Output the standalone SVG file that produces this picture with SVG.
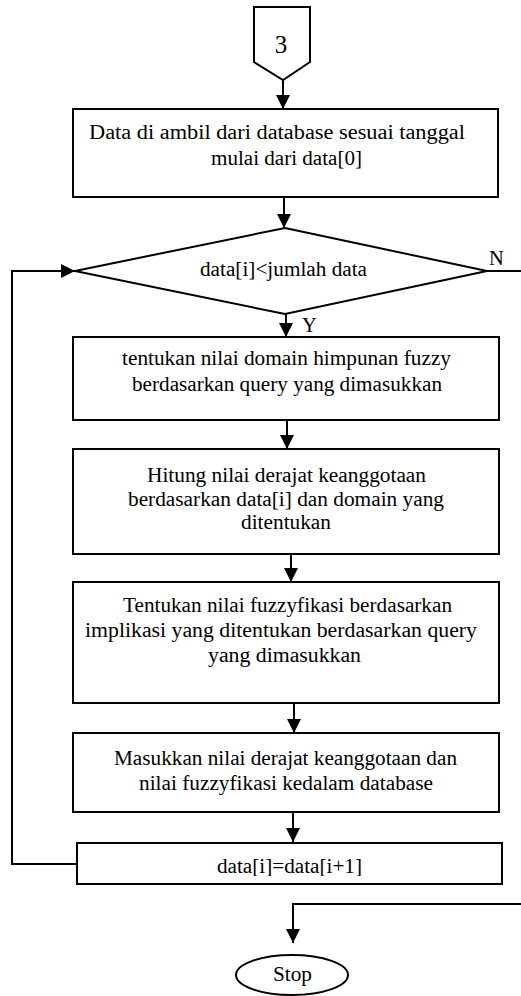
<svg xmlns="http://www.w3.org/2000/svg" width="521" height="996" viewBox="0 0 521 996">
  <style>
    .shape { fill: #ffffff; stroke: #000000; stroke-width: 2; }
    .wire { fill: none; stroke: #000000; stroke-width: 2; }
    .lbl { font-family: "Liberation Serif", "Times New Roman", serif; font-size: 20.5px; fill: #000000; text-anchor: middle; }
    .side { font-family: "Liberation Serif", "Times New Roman", serif; font-size: 20.5px; fill: #000000; }
  </style>
  <defs>
    <marker id="arrow" viewBox="0 0 14 14" refX="14" refY="7" markerWidth="14" markerHeight="14" markerUnits="userSpaceOnUse" orient="auto">
      <path d="M0,0 L14,7 L0,14 z" fill="#000000"/>
    </marker>
    <clipPath id="clip-step">
      <rect x="77" y="843" width="425" height="33"/>
    </clipPath>
  </defs>

  <rect width="521" height="996" fill="#ffffff"/>

  <!-- connectors -->
  <g id="connectors">
    <line class="wire" x1="283" y1="80" x2="283" y2="109" marker-end="url(#arrow)"/>
    <line class="wire" x1="284" y1="197" x2="284" y2="228" marker-end="url(#arrow)"/>
    <line class="wire" x1="286" y1="314" x2="286" y2="337" marker-end="url(#arrow)"/>
    <line class="wire" x1="287" y1="420" x2="287" y2="449" marker-end="url(#arrow)"/>
    <line class="wire" x1="291" y1="554" x2="291" y2="582" marker-end="url(#arrow)"/>
    <line class="wire" x1="294" y1="703" x2="294" y2="733" marker-end="url(#arrow)"/>
    <line class="wire" x1="293" y1="812" x2="293" y2="842" marker-end="url(#arrow)"/>
    <!-- loop back to the condition -->
    <polyline class="wire" points="77,864 12,864 12,271 75,271" marker-end="url(#arrow)"/>
    <!-- exit branch (N) -->
    <line class="wire" x1="487" y1="271" x2="521" y2="271"/>
    <polyline class="wire" points="521,904 293,904 293,943" marker-end="url(#arrow)"/>
    <text class="side" x="489" y="265">N</text>
    <text class="side" x="302" y="332">Y</text>
  </g>

  <!-- off-page connector -->
  <g id="node-connector-3">
    <polygon class="shape" points="254,7 310,7 310,62 283,80 254,62"/>
    <text class="lbl" x="281" y="53" style="font-size:25px">3</text>
  </g>

  <g id="node-load-data">
    <rect class="shape" x="73" y="109" width="425" height="88"/>
    <text class="lbl" x="277" y="139" textLength="376" lengthAdjust="spacingAndGlyphs">Data di ambil dari database sesuai tanggal</text>
    <text class="lbl" x="286.5" y="165" textLength="151" lengthAdjust="spacingAndGlyphs">mulai dari data[0]</text>
  </g>

  <g id="node-condition">
    <polygon class="shape" points="285,228 487,271 285,314 75,271"/>
    <text class="lbl" x="283.5" y="276" textLength="167" lengthAdjust="spacingAndGlyphs">data[i]&lt;jumlah data</text>
  </g>

  <g id="node-domain">
    <rect class="shape" x="73" y="337" width="426" height="83"/>
    <text class="lbl" x="286.5" y="365" textLength="329" lengthAdjust="spacingAndGlyphs">tentukan nilai domain himpunan fuzzy</text>
    <text class="lbl" x="287" y="391" textLength="310" lengthAdjust="spacingAndGlyphs">berdasarkan query yang dimasukkan</text>
  </g>

  <g id="node-membership">
    <rect class="shape" x="73" y="449" width="426" height="105"/>
    <text class="lbl" x="286.5" y="482" textLength="279" lengthAdjust="spacingAndGlyphs">Hitung nilai derajat keanggotaan</text>
    <text class="lbl" x="286" y="506" textLength="316" lengthAdjust="spacingAndGlyphs">berdasarkan data[i] dan domain yang</text>
    <text class="lbl" x="286" y="529" textLength="90" lengthAdjust="spacingAndGlyphs">ditentukan</text>
  </g>

  <g id="node-fuzzification">
    <rect class="shape" x="73" y="582" width="426" height="121"/>
    <text class="lbl" x="287.5" y="612" textLength="329" lengthAdjust="spacingAndGlyphs">Tentukan nilai fuzzyfikasi berdasarkan</text>
    <text class="lbl" x="281" y="637" textLength="392" lengthAdjust="spacingAndGlyphs">implikasi yang ditentukan berdasarkan query</text>
    <text class="lbl" x="284.5" y="662" textLength="153" lengthAdjust="spacingAndGlyphs">yang dimasukkan</text>
  </g>

  <g id="node-store">
    <rect class="shape" x="73" y="733" width="426" height="79"/>
    <text class="lbl" x="285.5" y="765" textLength="343" lengthAdjust="spacingAndGlyphs">Masukkan nilai derajat keanggotaan dan</text>
    <text class="lbl" x="286" y="790" textLength="294" lengthAdjust="spacingAndGlyphs">nilai fuzzyfikasi kedalam database</text>
  </g>

  <g id="node-next">
    <rect class="shape" x="77" y="843" width="425" height="41"/>
    <text class="lbl" x="289.5" y="873" textLength="145" lengthAdjust="spacingAndGlyphs" clip-path="url(#clip-step)">data[i]=data[i+1]</text>
  </g>

  <g id="node-stop">
    <ellipse class="shape" cx="292" cy="975" rx="56" ry="20"/>
    <text class="lbl" x="292.5" y="981" textLength="39" lengthAdjust="spacingAndGlyphs">Stop</text>
  </g>
</svg>
